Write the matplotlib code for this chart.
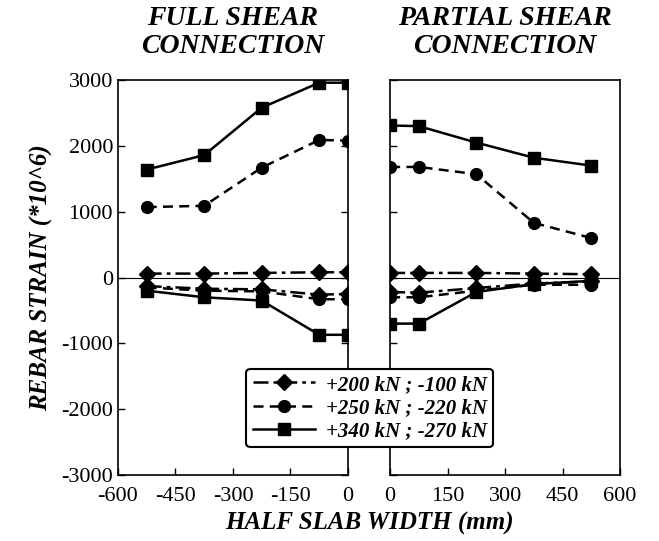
import matplotlib
matplotlib.use("Agg")
import matplotlib.pyplot as plt

plt.rcParams["font.family"] = ["Liberation Serif", "DejaVu Serif"]
plt.rcParams["axes.unicode_minus"] = False

x_full = [-525, -375, -225, -75, 0]
x_part = [0, 75, 225, 375, 525]

# full shear connection (left panel)
full_200_pos = [60, 60, 70, 80, 80]
full_200_neg = [-130, -170, -180, -260, -250]
full_250_pos = [1070, 1090, 1670, 2090, 2080]
full_250_neg = [-150, -200, -210, -330, -330]
full_340_pos = [1640, 1860, 2580, 2960, 2960]
full_340_neg = [-200, -300, -350, -870, -870]

# partial shear connection (right panel)
part_200_pos = [70, 70, 70, 60, 50]
part_200_neg = [-220, -230, -160, -90, -60]
part_250_pos = [1680, 1680, 1570, 830, 600]
part_250_neg = [-300, -300, -200, -110, -110]
part_340_pos = [2310, 2300, 2050, 1820, 1700]
part_340_neg = [-700, -700, -220, -100, -50]

labels = ["+200 kN ; -100 kN", "+250 kN ; -220 kN", "+340 kN ; -270 kN"]
styles = [
    dict(linestyle=(0, (6, 2, 1.5, 2)), marker="D", markersize=8),
    dict(linestyle=(0, (4, 2.5)), marker="o", markersize=8.5),
    dict(linestyle="-", marker="s", markersize=8.5),
]

fig = plt.figure(figsize=(6.59, 5.41), dpi=100)
ax_l = fig.add_axes([0.179, 0.122, 0.349, 0.730])
ax_r = fig.add_axes([0.592, 0.122, 0.349, 0.730])

series = {
    ax_l: (x_full, [(full_200_pos, full_200_neg), (full_250_pos, full_250_neg),
                    (full_340_pos, full_340_neg)]),
    ax_r: (x_part, [(part_200_pos, part_200_neg), (part_250_pos, part_250_neg),
                    (part_340_pos, part_340_neg)]),
}

handles = []
for ax, (xs, groups) in series.items():
    ax.axhline(0, color="black", linewidth=0.8, zorder=1)
    for (pos, neg), st, lab in zip(groups, styles, labels):
        h, = ax.plot(xs, pos, color="black", linewidth=1.8, label=lab, **st)
        ax.plot(xs, neg, color="black", linewidth=1.8, **st)
        if ax is ax_l:
            handles.append(h)
    ax.set_ylim(-3000, 3000)
    ax.set_yticks(range(-3000, 3001, 1000))
    ax.tick_params(direction="in", length=5, width=1, labelsize=16)
    ax.tick_params(axis="x", pad=9)
    for sp in ax.spines.values():
        sp.set_linewidth(1.2)

ax_l.set_xlim(-600, 0)
ax_l.set_xticks(range(-600, 1, 150))
ax_r.set_xlim(0, 600)
ax_r.set_xticks(range(0, 601, 150))
ax_r.tick_params(labelleft=False)
ax_l.tick_params(right=True)

ax_l.set_ylabel("REBAR STRAIN (*10^6)", fontsize=18, fontweight="bold",
                fontstyle="italic", labelpad=6)
fig.text(0.561, 0.022, "HALF SLAB WIDTH (mm)", ha="center", fontsize=18,
         fontweight="bold", fontstyle="italic")

title_kw = dict(fontsize=20, fontweight="bold", fontstyle="italic",
                ha="center", va="top", linespacing=1.15)
fig.text(0.179 + 0.349 / 2, 0.988, "FULL SHEAR\nCONNECTION", **title_kw)
fig.text(0.592 + 0.349 / 2, 0.988, "PARTIAL SHEAR\nCONNECTION", **title_kw)

leg = fig.legend(handles=handles, loc="center", bbox_to_anchor=(0.561, 0.246),
                 fancybox=True, framealpha=1, edgecolor="black",
                 prop=dict(family="Liberation Serif", weight="bold",
                           style="italic", size=15),
                 handlelength=3.0, handletextpad=0.5, borderpad=0.3,
                 labelspacing=0.15)
leg.get_frame().set_linewidth(1.5)

fig.savefig("out.png", dpi=100)
